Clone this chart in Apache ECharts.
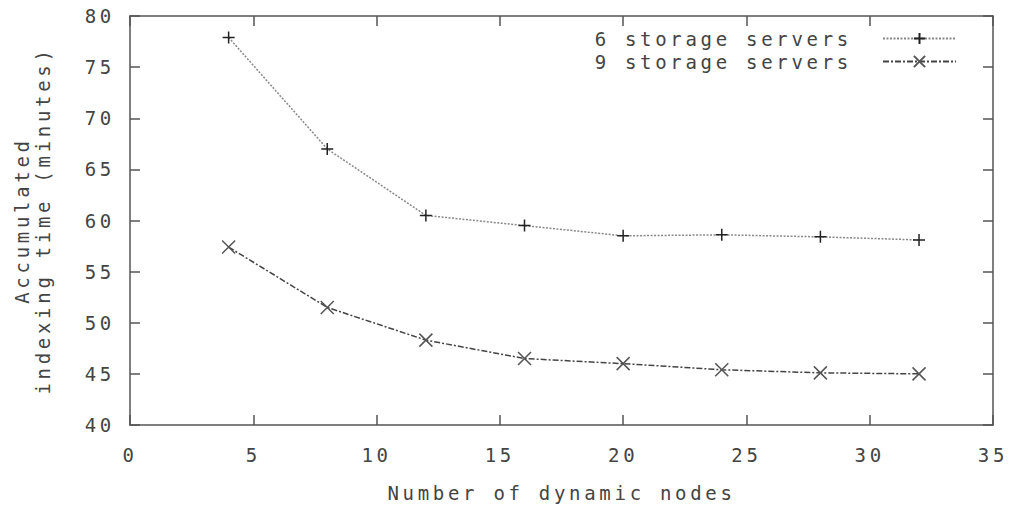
<!DOCTYPE html>
<html>
<head>
<meta charset="utf-8">
<script src="https://cdn.jsdelivr.net/npm/echarts@6/dist/echarts.min.js"></script>
<style>
  html, body { margin: 0; padding: 0; background: #fff; }
  #chart { width: 1015px; height: 507px; }
  /* wide, typewriter-like spacing for every label */
  #chart text { letter-spacing: 3.7px; }
</style>
</head>
<body>
<div id="chart"></div>
<script>
// Number of dynamic nodes
const nodes = [4, 8, 12, 16, 20, 24, 28, 32];
// Accumulated indexing time (minutes)
const sixServers = [77.9, 67.0, 60.5, 59.5, 58.5, 58.6, 58.4, 58.1];
const nineServers = [57.4, 51.5, 48.3, 46.5, 46.0, 45.4, 45.1, 45.0];
const seriesNames = ['6 storage servers', '9 storage servers'];

const FONT = 'DejaVu Sans Mono';
const FS = 19;
const TEXT = '#444';
const AXIS = '#555';

const plus = 'path://M0,-6L0,6M-6,0L6,0';
const cross = 'path://M-6,-6L6,6M-6,6L6,-6';

function pairs(xs, ys) { return xs.map((x, i) => [x, ys[i]]); }

const chart = echarts.init(document.getElementById('chart'), null, { renderer: 'svg' });

const baseX = {
  type: 'value', min: 0, max: 35, interval: 5,
  axisLine: { show: true, onZero: false, lineStyle: { color: AXIS, width: 1.5 } },
  axisTick: { show: true, inside: true, length: 10, lineStyle: { color: AXIS, width: 1.5 } },
  splitLine: { show: false }
};
const baseY = {
  type: 'value', min: 40, max: 80, interval: 5,
  axisLine: { show: true, onZero: false, lineStyle: { color: AXIS, width: 1.5 } },
  axisTick: { show: true, inside: true, length: 10, lineStyle: { color: AXIS, width: 1.5 } },
  splitLine: { show: false }
};

chart.setOption({
  animation: false,
  backgroundColor: '#fff',
  grid: { left: 130, right: 22, top: 16, bottom: 75 },
  legend: {
    orient: 'vertical', right: 53, top: 24, align: 'right',
    itemWidth: 73, itemHeight: 14, itemGap: 4,
    textStyle: { fontFamily: FONT, fontSize: FS, color: TEXT, lineHeight: 14, padding: [0, 26, 0, 0] },
    data: seriesNames
  },
  xAxis: [
    Object.assign({}, baseX, {
      position: 'bottom',
      name: 'Number of dynamic nodes', nameLocation: 'middle', nameGap: 58,
      nameTextStyle: { fontFamily: FONT, fontSize: FS, color: TEXT },
      axisLabel: { margin: 20, fontFamily: FONT, fontSize: FS, color: TEXT }
    }),
    Object.assign({}, baseX, { position: 'top', axisLabel: { show: false } })
  ],
  yAxis: [
    Object.assign({}, baseY, {
      position: 'left',
      name: 'Accumulated\nindexing time (minutes)', nameLocation: 'middle', nameGap: 77,
      nameTextStyle: { fontFamily: FONT, fontSize: FS, color: TEXT, lineHeight: 21 },
      axisLabel: { margin: 15, fontFamily: FONT, fontSize: FS, color: TEXT }
    }),
    Object.assign({}, baseY, { position: 'right', axisLabel: { show: false } })
  ],
  series: [
    {
      name: seriesNames[0], type: 'line', xAxisIndex: 0, yAxisIndex: 0,
      data: pairs(nodes, sixServers),
      symbol: plus, symbolSize: 12,
      itemStyle: { color: 'rgba(0,0,0,0)', borderColor: '#222', borderWidth: 1.5 },
      lineStyle: { color: '#888', width: 1.5, type: [2, 1.5] }
    },
    {
      name: seriesNames[1], type: 'line', xAxisIndex: 0, yAxisIndex: 0,
      data: pairs(nodes, nineServers),
      symbol: cross, symbolSize: 13,
      itemStyle: { color: 'rgba(0,0,0,0)', borderColor: '#555', borderWidth: 1.5 },
      lineStyle: { color: '#444', width: 1.5, type: [6, 2, 2, 2] }
    }
  ]
});
</script>
</body>
</html>
